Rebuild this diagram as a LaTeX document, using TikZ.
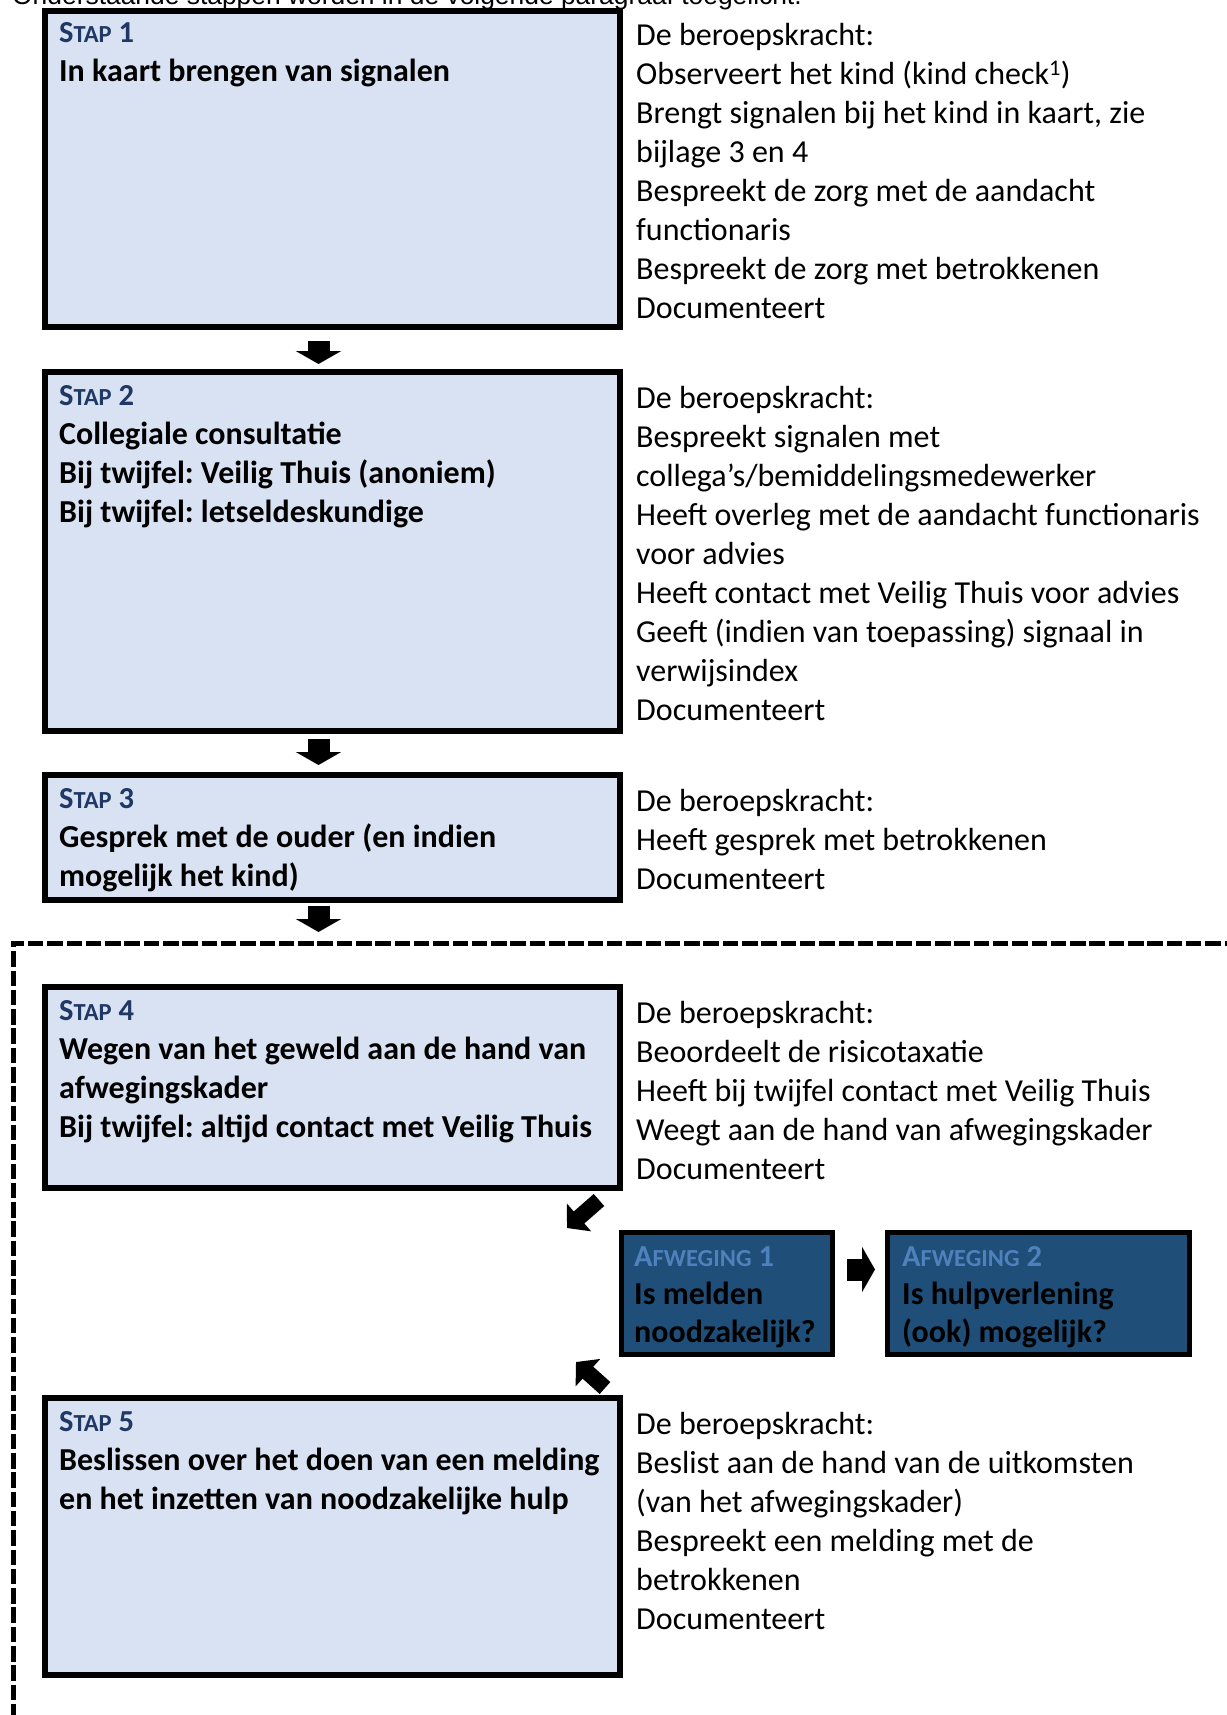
\documentclass[tikz,border=0pt]{standalone}
\usepackage{fontspec}
\setmainfont{Carlito}
\newfontfamily\arialfont{Liberation Sans}
\usetikzlibrary{arrows.meta}
\definecolor{boxblue}{HTML}{D9E2F3}
\definecolor{stapblue}{HTML}{1F3864}
\definecolor{afwfill}{HTML}{1F4E79}
\definecolor{afwtitle}{HTML}{4F81BD}
\frenchspacing
\newcommand{\bodysize}{\fontsize{32}{39}\selectfont}
\newcommand{\kopsize}{\fontsize{30.5}{39}\selectfont}
\newcommand{\kleinkap}{\fontsize{24.5}{39}\selectfont}
\newcommand{\stapkop}[1]{{\kopsize\color{stapblue}S{\kleinkap TAP} #1}}
\newcommand{\afwkop}[1]{{\kopsize\color{afwtitle}A{\kleinkap FWEGING} #1}}
\begin{document}
\begin{tikzpicture}[
        x=1pt, y=-1pt,
        font=\bodysize
    ]
    \tikzset{
        stapbox/.style = {rectangle, draw=black, line width=6pt, fill=boxblue, anchor=north west, inner sep=0pt, outer sep=0pt, minimum width=575pt},
        afwbox/.style = {rectangle, draw=black, line width=5pt, fill=afwfill, anchor=north west, inner sep=0pt, outer sep=0pt, minimum height=122pt},
        staptext/.style = {anchor=north west, inner sep=0pt, align=left, font=\bodysize\bfseries, execute at begin node=\strut},
        afwtext/.style = {anchor=north west, inner sep=0pt, align=left, font=\fontsize{32}{38}\selectfont\bfseries, execute at begin node=\strut},
        uitleg/.style = {anchor=north west, inner sep=0pt, align=left, execute at begin node=\strut},
        blokpijl/.style = {line width=22pt, -{Triangle[width=45pt,length=13pt]}},
        kleinpijl/.style = {line width=16pt, -{Triangle[width=36pt,length=16pt]}},
        kader/.style = {line width=5pt, dash pattern=on 15.5pt off 3.8pt},
    }
    \useasboundingbox (0,0) rectangle (1226,1715);
    \node[anchor=base west, inner sep=0pt, font=\arialfont\fontsize{26.4}{32}\selectfont] (intro) at (12,5) {Onderstaande stappen worden in de volgende paragraaf toegelicht.};
    % stappen
    \node[stapbox, minimum height=316pt] at (45,11) (s1) {};
    \node[stapbox, minimum height=359pt] at (45,372) (s2) {};
    \node[stapbox, minimum height=125pt] at (45,775) (s3) {};
    \node[stapbox, minimum height=201pt] at (45,987) (s4) {};
    \node[stapbox, minimum height=277pt] at (45,1398) (s5) {};
    \node[afwbox, minimum width=211pt] at (621,1232) (w1) {};
    \node[afwbox, minimum width=302pt] at (887,1232) (w2) {};
    %
    \node[staptext] at (59,22) (t1) {\stapkop{1}\\In kaart brengen van signalen};
    \node[staptext] at (59,385) (t2) {\stapkop{2}\\Collegiale consultatie\\Bij twijfel: Veilig Thuis (anoniem)\\Bij twijfel: letseldeskundige};
    \node[staptext] at (59,788) (t3) {\stapkop{3}\\Gesprek met de ouder (en indien\\mogelijk het kind)};
    \node[staptext] at (59,1000) (t4) {\stapkop{4}\\Wegen van het geweld aan de hand van\\afwegingskader\\Bij twijfel: altijd contact met Veilig Thuis};
    \node[staptext] at (59,1411) (t5) {\stapkop{5}\\Beslissen over het doen van een melding\\en het inzetten van noodzakelijke hulp};
    \node[afwtext] at (634,1246) (tw1) {\afwkop{1}\\Is melden\\noodzakelijk?};
    \node[afwtext] at (902,1246) (tw2) {\afwkop{2}\\Is hulpverlening\\(ook) mogelijk?};
    %
    \node[uitleg] at (636,23) (u1) {De beroepskracht:\\Observeert het kind (kind check\textsuperscript{1})\\Brengt signalen bij het kind in kaart, zie\\bijlage 3 en 4\\Bespreekt de zorg met de aandacht\\functionaris\\Bespreekt de zorg met betrokkenen\\Documenteert};
    \node[uitleg] at (636,386) (u2) {De beroepskracht:\\Bespreekt signalen met\\collega’s/bemiddelingsmedewerker\\Heeft overleg met de aandacht functionaris\\voor advies\\Heeft contact met Veilig Thuis voor advies\\Geeft (indien van toepassing) signaal in\\verwijsindex\\Documenteert};
    \node[uitleg] at (636,789) (u3) {De beroepskracht:\\Heeft gesprek met betrokkenen\\Documenteert};
    \node[uitleg] at (636,1001) (u4) {De beroepskracht:\\Beoordeelt de risicotaxatie\\Heeft bij twijfel contact met Veilig Thuis\\Weegt aan de hand van afwegingskader\\Documenteert};
    \node[uitleg] at (636,1412) (u5) {De beroepskracht:\\Beslist aan de hand van de uitkomsten\\(van het afwegingskader)\\Bespreekt een melding met de\\betrokkenen\\Documenteert};
    %
    \draw[kader] (1240,943) -| (13,1730);
    %
    \draw[blokpijl, shorten <=14pt, shorten >=8pt] ([xshift=-14pt]s1.south) -- ([xshift=-14pt]s2.north);
    \draw[blokpijl, shorten <=8pt, shorten >=10pt] ([xshift=-14pt]s2.south) -- ([xshift=-14pt]s3.north);
    \draw[blokpijl, shorten <=6pt, shorten >=55pt] ([xshift=-14pt]s3.south) -- ([xshift=-14pt]s4.north);
    \draw[blokpijl, shorten <=15pt, shorten >=12pt] ([yshift=23.5pt]w1.east) -- ([yshift=23.5pt]w2.west);
    %
    \coordinate (d1a) at (599,1200);
    \coordinate (d1b) at (567,1228);
    \coordinate (d2a) at (605,1388);
    \coordinate (d2b) at (576,1362);
    \draw[kleinpijl] (d1a) -- (d1b);
    \draw[kleinpijl] (d2a) -- (d2b);
\end{tikzpicture}
\end{document}
